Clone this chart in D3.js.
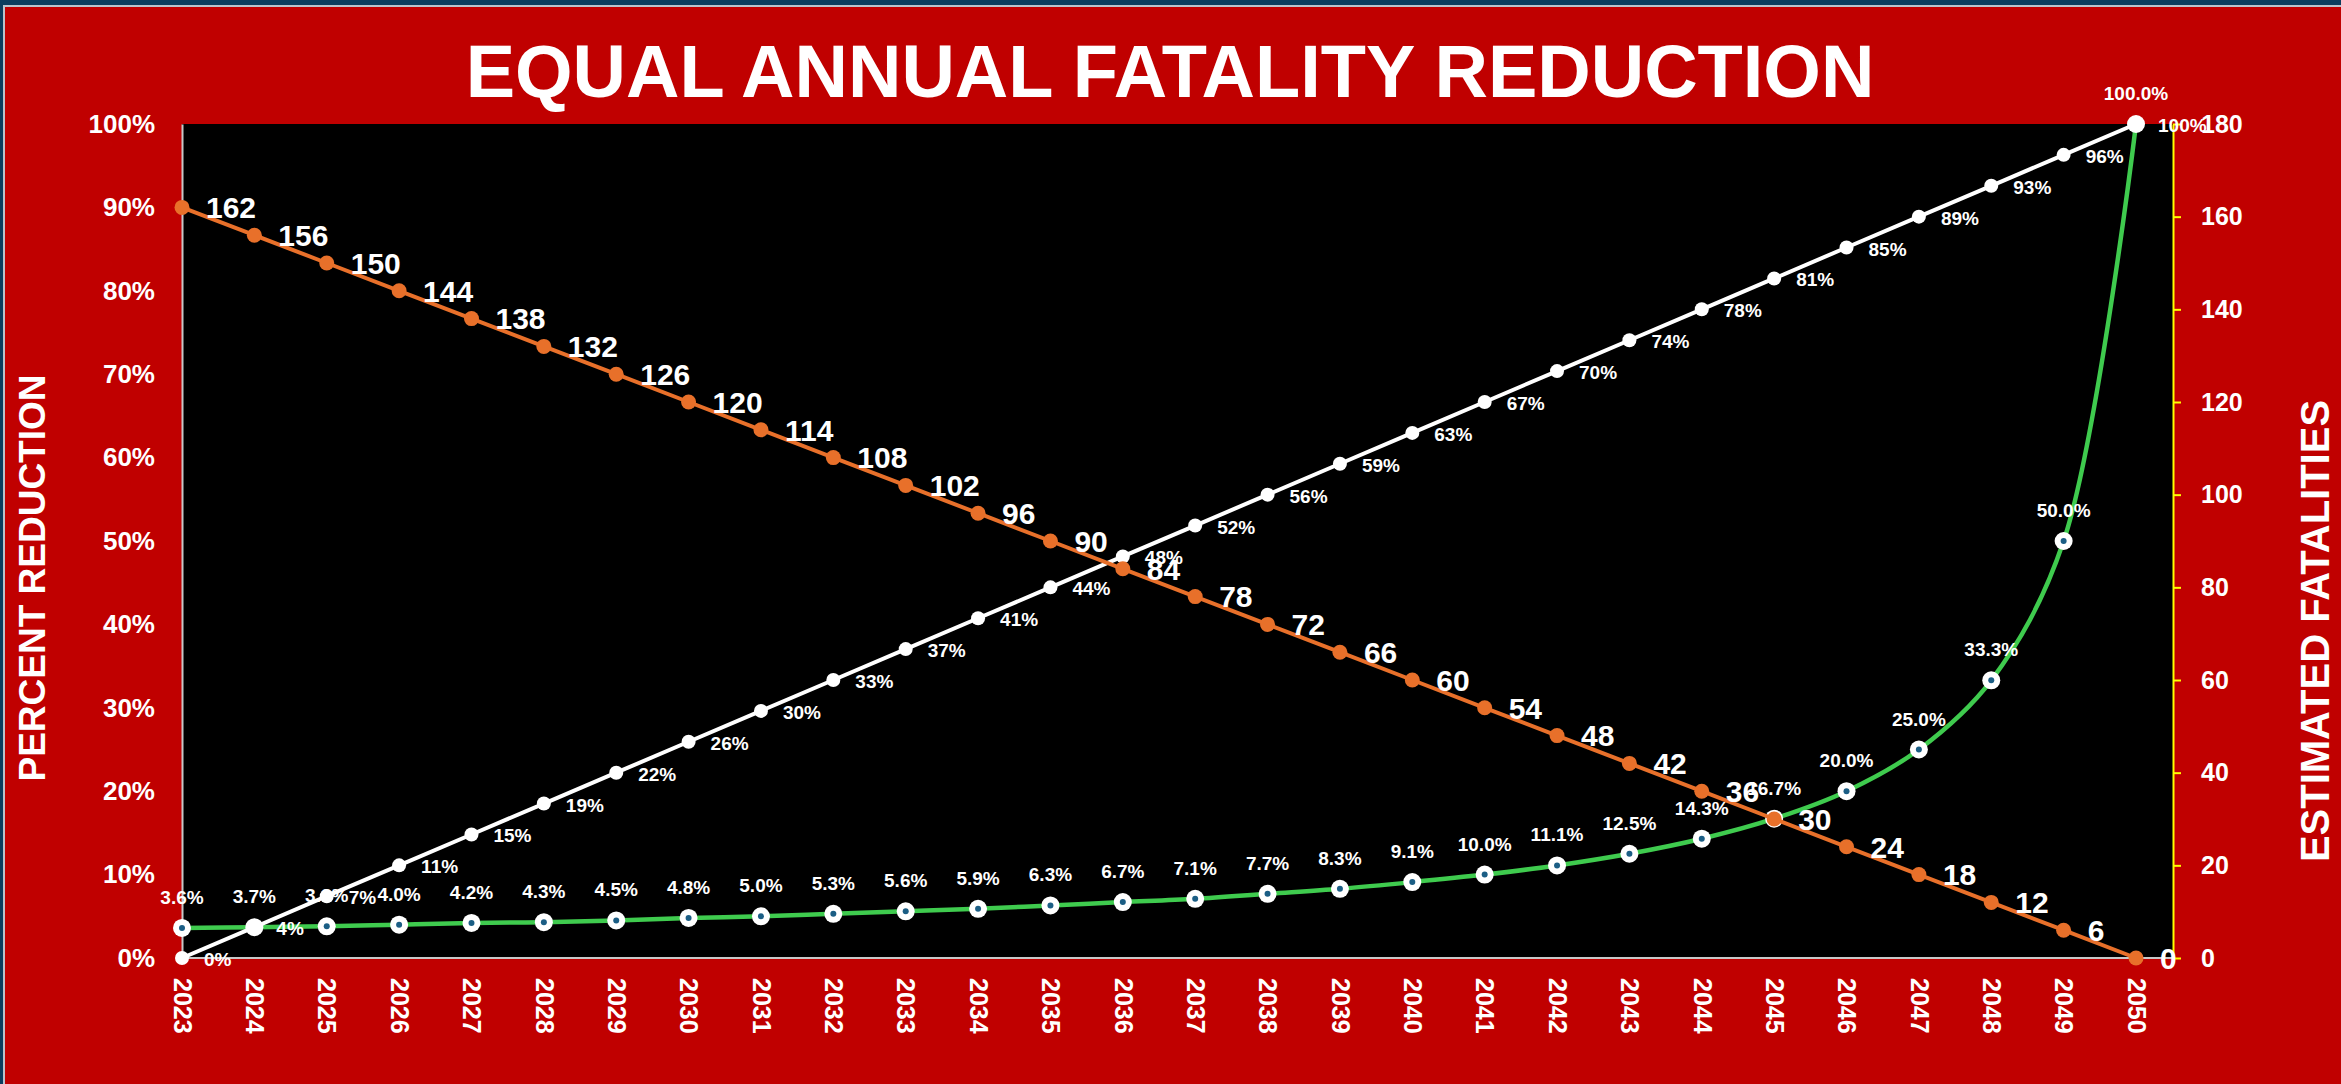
<!DOCTYPE html>
<html>
<head>
<meta charset="utf-8">
<script src="https://cdn.jsdelivr.net/npm/d3@7"></script>
<style>
  body { margin: 0; background: #C00000; }
  text { font-family: "Liberation Sans", Arial, sans-serif; font-weight: bold; fill: #fff; }
</style>
</head>
<body>
<div id="chart"></div>
<script>
// years on the x axis
var years = [2023, 2024, 2025, 2026, 2027, 2028, 2029, 2030, 2031, 2032, 2033, 2034, 2035, 2036,
             2037, 2038, 2039, 2040, 2041, 2042, 2043, 2044, 2045, 2046, 2047, 2048, 2049, 2050];

// estimated fatalities (right axis)
var fatalities = [162, 156, 150, 144, 138, 132, 126, 120, 114, 108, 102, 96, 90, 84,
                  78, 72, 66, 60, 54, 48, 42, 36, 30, 24, 18, 12, 6, 0];

// cumulative percent reduction (left axis)
var cumReduction = [0, 3.70, 7.41, 11.11, 14.81, 18.52, 22.22, 25.93, 29.63, 33.33, 37.04, 40.74, 44.44, 48.15,
                    51.85, 55.56, 59.26, 62.96, 66.67, 70.37, 74.07, 77.78, 81.48, 85.19, 88.89, 92.59, 96.30, 100];

// annual percent reduction (left axis)
var annualReduction = [3.6, 3.7, 3.8, 4.0, 4.2, 4.3, 4.5, 4.8, 5.0, 5.3, 5.6, 5.9, 6.3, 6.7,
                       7.1, 7.7, 8.3, 9.1, 10.0, 11.1, 12.5, 14.3, 16.7, 20.0, 25.0, 33.3, 50.0, 100.0];

var leftTicks = [0, 10, 20, 30, 40, 50, 60, 70, 80, 90, 100];
var rightTicks = [0, 20, 40, 60, 80, 100, 120, 140, 160, 180];

var W = 2341, H = 1084,
    plot = { left: 182, right: 2173, top: 124, bottom: 958 };

var svg = d3.select("#chart").append("svg").attr("width", W).attr("height", H);

// frame
svg.append("rect").attr("width", W).attr("height", H).attr("fill", "#C00000");
svg.append("rect").attr("width", W).attr("height", 5).attr("fill", "#0b3d5e");
svg.append("rect").attr("y", 5).attr("width", W).attr("height", 2).attr("fill", "#b9c3cc");
svg.append("rect").attr("width", 3).attr("height", H).attr("fill", "#0b3d5e");
svg.append("rect").attr("x", 3).attr("y", 5).attr("width", 2).attr("height", H).attr("fill", "#b9c3cc");

svg.append("rect")
    .attr("x", plot.left).attr("y", plot.top)
    .attr("width", plot.right - plot.left).attr("height", plot.bottom - plot.top)
    .attr("fill", "#000");

var x = d3.scaleLinear().domain([2023, 2050]).range([plot.left, 2136]);
var yL = d3.scaleLinear().domain([0, 100]).range([plot.bottom, plot.top]);
var yR = d3.scaleLinear().domain([0, 180]).range([plot.bottom, plot.top]);

// left axis
var gl = svg.append("g").attr("transform", "translate(" + plot.left + ",0)")
    .call(d3.axisLeft(yL).tickValues(leftTicks).tickSize(0).tickPadding(27)
        .tickFormat(function (d) { return d + "%"; }));
gl.select(".domain").attr("stroke", "#c8c8c8").attr("stroke-width", 2);
gl.selectAll("text").style("font-size", "26px").attr("fill", "#fff");

// right axis
var gr = svg.append("g").attr("transform", "translate(" + plot.right + ",0)")
    .call(d3.axisRight(yR).tickValues(rightTicks).tickSize(8).tickSizeOuter(0).tickPadding(20));
gr.select(".domain").attr("stroke", "#ffff00").attr("stroke-width", 2);
gr.selectAll("line").attr("stroke", "#ffff00").attr("stroke-width", 2);
gr.selectAll("text").style("font-size", "25px").attr("fill", "#fff");

// bottom axis
svg.append("line")
    .attr("x1", plot.left).attr("x2", plot.right)
    .attr("y1", plot.bottom).attr("y2", plot.bottom)
    .attr("stroke", "#c8c8c8").attr("stroke-width", 2);
var gb = svg.append("g").attr("transform", "translate(0," + plot.bottom + ")")
    .call(d3.axisBottom(x).tickValues(years).tickSize(0).tickFormat(d3.format("d")));
gb.select(".domain").remove();
gb.selectAll("text")
    .style("font-size", "25px").attr("fill", "#fff")
    .attr("y", 0).attr("x", 20).attr("dy", "0.35em")
    .attr("transform", "rotate(90)")
    .style("text-anchor", "start");

// titles
svg.append("text").attr("x", 1170).attr("y", 97)
    .attr("text-anchor", "middle").style("font-size", "74px")
    .text("EQUAL ANNUAL FATALITY REDUCTION");
svg.append("text").attr("transform", "translate(45,578) rotate(-90)")
    .attr("text-anchor", "middle").style("font-size", "37px")
    .text("PERCENT REDUCTION");
svg.append("text").attr("transform", "translate(2329,631) rotate(-90)")
    .attr("text-anchor", "middle").style("font-size", "40px")
    .text("ESTIMATED FATALITIES");

// green: annual reduction
var greenLine = d3.line()
    .x(function (d, i) { return x(years[i]); })
    .y(function (d) { return yL(d); })
    .curve(d3.curveCatmullRom.alpha(0.5));
svg.append("path").datum(annualReduction)
    .attr("d", greenLine).attr("fill", "none")
    .attr("stroke", "#3fcb4e").attr("stroke-width", 4.5);
svg.append("g").selectAll("circle").data(annualReduction).join("circle")
    .attr("cx", function (d, i) { return x(years[i]); })
    .attr("cy", function (d) { return yL(d); })
    .attr("r", 9).attr("fill", "#fff");
svg.append("g").selectAll("circle").data(annualReduction).join("circle")
    .attr("cx", function (d, i) { return x(years[i]); })
    .attr("cy", function (d) { return yL(d); })
    .attr("r", 3).attr("fill", "#1b5e85");

// white: cumulative reduction
var whiteLine = d3.line()
    .x(function (d, i) { return x(years[i]); })
    .y(function (d) { return yL(d); });
svg.append("path").datum(cumReduction)
    .attr("d", whiteLine).attr("fill", "none")
    .attr("stroke", "#fff").attr("stroke-width", 4);
svg.append("g").selectAll("circle").data(cumReduction).join("circle")
    .attr("cx", function (d, i) { return x(years[i]); })
    .attr("cy", function (d) { return yL(d); })
    .attr("r", 7).attr("fill", "#fff");

// orange: fatalities
var orangeLine = d3.line()
    .x(function (d, i) { return x(years[i]); })
    .y(function (d) { return yR(d); });
svg.append("path").datum(fatalities)
    .attr("d", orangeLine).attr("fill", "none")
    .attr("stroke", "#e8702a").attr("stroke-width", 4);
svg.append("g").selectAll("circle").data(fatalities).join("circle")
    .attr("cx", function (d, i) { return x(years[i]); })
    .attr("cy", function (d) { return yR(d); })
    .attr("r", 7.5).attr("fill", "#e8702a");

// labels
svg.append("g").selectAll("text").data(annualReduction).join("text")
    .attr("x", function (d, i) { return x(years[i]); })
    .attr("y", function (d) { return yL(d) - 24; })
    .attr("text-anchor", "middle").style("font-size", "19px")
    .text(function (d) { return d3.format(".1f")(d) + "%"; });

svg.append("g").selectAll("text").data(cumReduction).join("text")
    .attr("x", function (d, i) { return x(years[i]) + 22; })
    .attr("y", function (d) { return yL(d) + 8; })
    .style("font-size", "19px")
    .text(function (d) { return d3.format(".0f")(d) + "%"; });

svg.append("g").selectAll("text").data(fatalities).join("text")
    .attr("x", function (d, i) { return x(years[i]) + 24; })
    .attr("y", function (d) { return yR(d); })
    .attr("dy", "0.36em").style("font-size", "30px")
    .text(function (d) { return d; });
</script>
</body>
</html>
